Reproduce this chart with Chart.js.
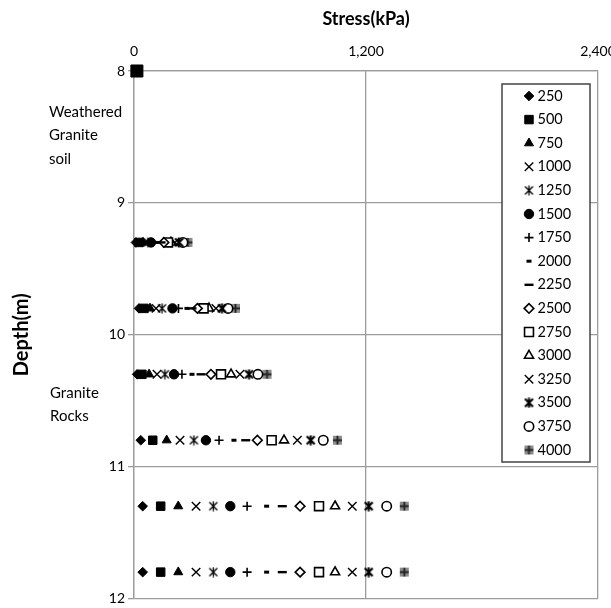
<!DOCTYPE html>
<html>
<head>
<meta charset="utf-8">
<script src="https://cdn.jsdelivr.net/npm/chart.js@4.4.0/dist/chart.umd.min.js"></script>
<style>
    html, body { margin: 0; padding: 0; background: #fff; }
    #wrap { width: 611px; height: 608px; }
</style>
</head>
<body>
<div id="wrap"><canvas id="stressChart" width="611" height="608"></canvas></div>
<script>
// Depth rows (m) and load steps (kPa)
const depths = [8.0, 9.3, 9.8, 10.3, 10.8, 11.3, 11.8];
const loads = ['250', '500', '750', '1000', '1250', '1500', '1750', '2000',
               '2250', '2500', '2750', '3000', '3250', '3500', '3750', '4000'];

// Stress read at each depth, one value per load step (null = no point)
const stress80 = [null, 15, null, null, null, null, null, null, null, null, null, null, null, null, null, null];
const stress93 = [10, 26, 47, 62, 72, 88, 98, 119, 140, 155, 176, 191, 212, 233, 253, 279];
const stress98 = [26, 52, 83, 114, 145, 199, 230, 274, 300, 328, 360, 388, 424, 455, 486, 525];
const stress103 = [16, 41, 78, 119, 160, 207, 248, 300, 347, 398, 450, 502, 548, 595, 641, 688];
const stress108 = [35, 97, 169, 238, 310, 372, 440, 517, 578, 638, 712, 776, 845, 914, 979, 1052];
const stress113 = [45, 138, 229, 321, 410, 498, 585, 686, 767, 859, 957, 1040, 1129, 1214, 1307, 1398];
const stress118 = [45, 138, 229, 321, 410, 498, 585, 686, 767, 859, 957, 1040, 1129, 1214, 1307, 1398];

const xTicks = [0, 1200, 2400];
const yTicks = [8, 9, 10, 11, 12];

const rows = [stress80, stress93, stress98, stress103, stress108, stress113, stress118];

// Marcadores pequeños dibujados a mano
function makeGlyph(draw) {
    const c = document.createElement('canvas');
    c.width = 11; c.height = 11;
    draw(c.getContext('2d'));
    return c;
}
function starGlyph(lw) {
    return makeGlyph(g => {
        g.strokeStyle = '#000'; g.lineWidth = lw;
        g.beginPath();
        g.moveTo(1.5, 1.5); g.lineTo(9.5, 9.5);
        g.moveTo(9.5, 1.5); g.lineTo(1.5, 9.5);
        g.moveTo(5.5, 0.5); g.lineTo(5.5, 10.5);
        g.stroke();
    });
}
const starThin = starGlyph(1.3);
const starBold = starGlyph(2.1);
const boxPlus = makeGlyph(g => {
    g.fillStyle = '#8c8c8c'; g.fillRect(1, 1, 9, 9);
    g.strokeStyle = '#222'; g.lineWidth = 1.8;
    g.beginPath();
    g.moveTo(5.5, 1); g.lineTo(5.5, 10);
    g.moveTo(1, 5.5); g.lineTo(10, 5.5);
    g.stroke();
});

const BLK = '#000';
const WHT = '#fff';
const markers = [
    { style: 'rectRot', r: 4.8, fill: BLK, bw: 1 },
    { style: 'rect', r: 6, fill: BLK, bw: 1 },
    { style: 'triangle', r: 5.2, fill: BLK, bw: 1 },
    { style: 'crossRot', r: 6, fill: BLK, bw: 1.4 },
    { style: starThin, r: 5.5, fill: BLK, bw: 1 },
    { style: 'circle', r: 4.7, fill: BLK, bw: 1 },
    { style: 'cross', r: 4.5, fill: BLK, bw: 1.6 },
    { style: 'line', r: 2.5, fill: BLK, bw: 3 },
    { style: 'line', r: 4.5, fill: BLK, bw: 2.4 },
    { style: 'rectRot', r: 4.8, fill: WHT, bw: 1.6 },
    { style: 'rect', r: 6.3, fill: WHT, bw: 1.6 },
    { style: 'triangle', r: 5.2, fill: WHT, bw: 1.6 },
    { style: 'crossRot', r: 6, fill: BLK, bw: 1.4 },
    { style: starBold, r: 5.5, fill: BLK, bw: 1 },
    { style: 'circle', r: 4.7, fill: WHT, bw: 1.6 },
    { style: boxPlus, r: 5.5, fill: BLK, bw: 1 }
];

const datasets = loads.map((label, i) => {
    const m = markers[i];
    const pts = [];
    const radii = [];
    depths.forEach((d, j) => {
        if (rows[j][i] !== null) {
            pts.push({ x: rows[j][i], y: d });
            radii.push(d === 8 ? 8.5 : m.r);   // el cuadrado superior es más grande
        }
    });
    return {
        label: label,
        data: pts,
        showLine: false,
        clip: false,
        pointStyle: m.style,
        pointRadius: radii,
        pointBackgroundColor: m.fill,
        pointBorderColor: BLK,
        pointBorderWidth: m.bw,
        pointHoverRadius: radii
    };
});

const FONT = 'Lato, "Open Sans", sans-serif';

// Leyenda dentro del área de gráfico
const legendBox = {
    id: 'legendBox',
    afterDraw(chart) {
        const ctx = chart.ctx;
        ctx.save();
        ctx.fillStyle = '#fff';
        ctx.fillRect(502, 84, 88, 378);
        ctx.strokeStyle = '#444';
        ctx.lineWidth = 1.5;
        ctx.strokeRect(502, 84, 88, 378);
        chart.data.datasets.forEach((ds, i) => {
            const m = markers[i];
            const y = 96 + i * 23.6;
            ctx.fillStyle = m.fill;
            ctx.strokeStyle = BLK;
            ctx.lineWidth = m.bw;
            Chart.helpers.drawPoint(ctx, {
                pointStyle: m.style, radius: m.r, rotation: 0, borderWidth: m.bw
            }, 529, y);
            ctx.fillStyle = '#000';
            ctx.font = '14.5px ' + FONT;
            ctx.textAlign = 'left';
            ctx.textBaseline = 'middle';
            ctx.fillText(ds.label, 537.5, y);
        });
        ctx.restore();
    }
};

// Notas de estratos a la izquierda
const strata = {
    id: 'strata',
    afterDraw(chart) {
        const ctx = chart.ctx;
        ctx.save();
        ctx.fillStyle = '#000';
        ctx.font = '15px ' + FONT;
        ctx.textAlign = 'left';
        ctx.textBaseline = 'middle';
        ctx.fillText('Weathered', 49, 112);
        ctx.fillText('Granite', 49, 135);
        ctx.fillText('soil', 49, 159);
        ctx.fillText('Granite', 50, 393);
        ctx.fillText('Rocks', 50, 416);
        ctx.restore();
    }
};

const ctx = document.getElementById('stressChart').getContext('2d');
const chart = new Chart(ctx, {
    type: 'scatter',
    data: { datasets: datasets },
    options: {
        responsive: false,
        animation: false,
        layout: { padding: { left: 0, right: 13, top: 0, bottom: 8 } },
        plugins: {
            legend: { display: false },
            tooltip: { enabled: false }
        },
        scales: {
            x: {
                type: 'linear',
                position: 'top',
                min: 0,
                max: 2400,
                afterBuildTicks: (s) => { s.ticks = xTicks.map(v => ({ value: v })); },
                afterFit: (s) => { s.height = 71; s.paddingLeft = 0; s.paddingRight = 0; },
                ticks: {
                    padding: 11,
                    color: '#000',
                    font: { family: FONT, size: 14 },
                    callback: (v) => v.toLocaleString('en-US')
                },
                grid: { color: '#9c9c9c', lineWidth: 1.3, drawTicks: false },
                border: { color: '#9c9c9c', width: 1.3 },
                title: {
                    display: true,
                    text: 'Stress(kPa)',
                    color: '#000',
                    padding: { top: 8 },
                    font: { family: FONT, size: 18, weight: 'bold' }
                }
            },
            y: {
                type: 'linear',
                reverse: true,
                min: 8,
                max: 12,
                afterBuildTicks: (s) => { s.ticks = yTicks.map(v => ({ value: v })); },
                afterFit: (s) => { s.width = 134; s.paddingTop = 0; s.paddingBottom = 0; },
                ticks: {
                    padding: 3,
                    color: '#000',
                    font: { family: FONT, size: 14 }
                },
                grid: { color: '#9c9c9c', lineWidth: 1.3, tickLength: 6 },
                border: { color: '#9c9c9c', width: 1.3 },
                title: {
                    display: true,
                    text: 'Depth(m)',
                    color: '#000',
                    padding: { top: 10 },
                    font: { family: FONT, size: 20, weight: 'bold' }
                }
            }
        }
    },
    plugins: [legendBox, strata]
});
</script>
</body>
</html>
